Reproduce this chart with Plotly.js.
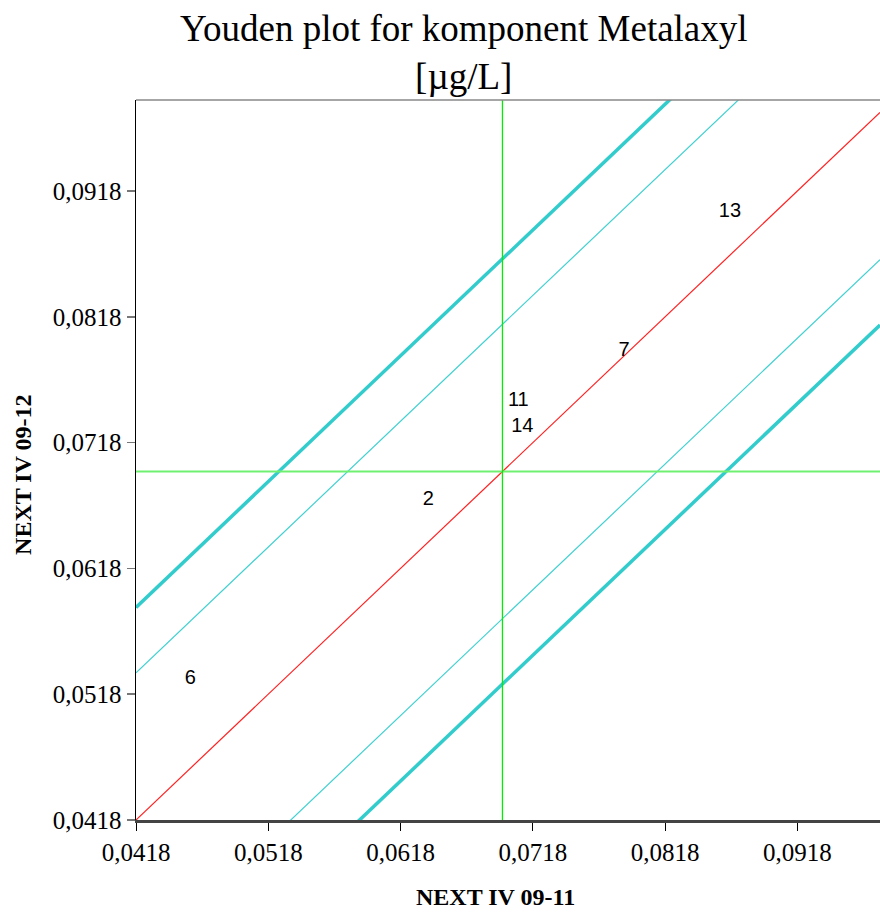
<!DOCTYPE html>
<html>
<head>
<meta charset="utf-8">
<script src="https://cdn.plot.ly/plotly-3.0.1.min.js"></script>
<style>
  html, body { margin: 0; padding: 0; background: #fff; }
  #chart { width: 880px; height: 912px; }
</style>
</head>
<body>
<div id="chart"></div>
<script>
// Laboratory results: sample NEXT IV 09-11 (x) against NEXT IV 09-12 (y)
const labIds   = ['13', '7', '11', '14', '2', '6'];
const sample11 = [0.0867, 0.0787, 0.0707, 0.0710, 0.0639, 0.0459];
const sample12 = [0.0901, 0.0791, 0.0751, 0.0730, 0.0672, 0.0530];

// Medians of both samples (crosshair)
const medianX = 0.0695;
const medianY = 0.0695;

// Limit lines parallel to the diagonal: y = x + offset
const innerOffsets = [0.0117, -0.0117];
const outerOffsets = [0.0169, -0.0169];

// Axis ranges and ticks
const xRange = [0.0418, 0.09804];
const yRange = [0.0418, 0.09903];
const tickValues = [0.0418, 0.0518, 0.0618, 0.0718, 0.0818, 0.0918];

function diagonal(offset, color, width) {
  return {
    type: 'scatter', mode: 'lines', hoverinfo: 'skip', showlegend: false,
    x: xRange.slice(),
    y: xRange.map(v => v + offset),
    line: { color: color, width: width }
  };
}

const traces = [];
traces.push(diagonal(0, '#ff2020', 1.2));
innerOffsets.forEach(o => traces.push(diagonal(o, '#40d0d0', 1.2)));
outerOffsets.forEach(o => traces.push(diagonal(o, '#33cccc', 3.5)));

// Median crosshair
traces.push({
  type: 'scatter', mode: 'lines', hoverinfo: 'skip', showlegend: false,
  x: xRange.slice(), y: [medianY, medianY],
  line: { color: '#70f070', width: 2 }
});
traces.push({
  type: 'scatter', mode: 'lines', hoverinfo: 'skip', showlegend: false,
  x: [medianX, medianX], y: yRange.slice(),
  line: { color: '#00ee00', width: 1.3 }
});

// Laboratory labels
traces.push({
  type: 'scatter', mode: 'text', showlegend: false,
  x: sample11, y: sample12, text: labIds,
  textposition: 'middle center',
  textfont: { family: 'Liberation Sans, Arial, sans-serif', size: 20, color: '#000' },
  cliponaxis: false
});

const serif = 'Liberation Serif, Times New Roman, serif';

const layout = {
  width: 880, height: 912,
  margin: { l: 136, r: 0, t: 100, b: 92 },
  paper_bgcolor: '#fff', plot_bgcolor: '#fff',
  separators: ', ',
  showlegend: false,
  title: {
    text: 'Youden plot for komponent Metalaxyl<br>[µg/L]',
    font: { family: serif, size: 37, color: '#000' },
    xref: 'container', x: 0.527, xanchor: 'center',
    yref: 'container', y: 0.955, yanchor: 'top'
  },
  xaxis: {
    range: xRange, tickvals: tickValues, tickformat: '.4f',
    showgrid: false, zeroline: false,
    showline: true, linecolor: '#444', linewidth: 2.5,
    ticks: 'outside', ticklen: 8, tickcolor: '#000', tickwidth: 1,
    tickfont: { family: serif, size: 25, color: '#000' }
  },
  yaxis: {
    range: yRange, tickvals: tickValues, tickformat: '.4f',
    showgrid: false, zeroline: false,
    showline: true, linecolor: '#000', linewidth: 1.5,
    ticks: 'outside', ticklen: 8, tickcolor: '#777', tickwidth: 1.5,
    tickfont: { family: serif, size: 25, color: '#000' }
  },
  shapes: [{
    type: 'line', xref: 'paper', yref: 'paper',
    x0: 0, x1: 1, y0: 1, y1: 1,
    line: { color: '#888', width: 1.5 }
  }],
  annotations: [
    {
      text: '<b>NEXT IV 09-11</b>', showarrow: false,
      xref: 'paper', yref: 'paper', x: (495 - 136) / 744, y: -0.107,
      xanchor: 'center', yanchor: 'middle',
      font: { family: serif, size: 24, color: '#000' }
    },
    {
      text: '<b>NEXT IV 09-12</b>', showarrow: false, textangle: -90,
      xref: 'paper', yref: 'paper', x: -0.152, y: (820 - 475) / 720,
      xanchor: 'center', yanchor: 'middle',
      font: { family: serif, size: 24, color: '#000' }
    }
  ]
};

Plotly.newPlot('chart', traces, layout, { staticPlot: true, displayModeBar: false });
</script>
</body>
</html>
